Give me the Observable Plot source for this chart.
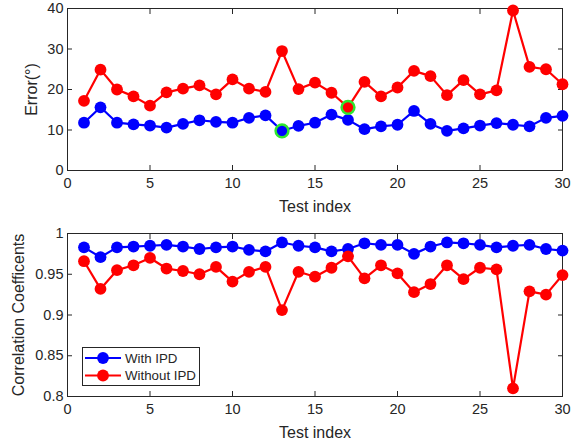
<!DOCTYPE html>
<html><head><meta charset="utf-8">
<script src="https://cdn.jsdelivr.net/npm/d3@7"></script>
<script src="https://cdn.jsdelivr.net/npm/@observablehq/plot@0.6"></script>
<style>
body{margin:0;background:#fff;}
#chart{position:relative;width:581px;height:444px;font-family:"Liberation Sans",Arial,sans-serif;}
#chart svg{display:block;}
#legend{position:absolute;left:82px;top:347px;}
</style></head><body><div id="chart"></div>
<script>
const testIndex = [1,2,3,4,5,6,7,8,9,10,11,12,13,14,15,16,17,18,19,20,21,22,23,24,25,26,27,28,29,30];
const errorWithIPD = [11.8,15.6,11.8,11.4,11.1,10.6,11.5,12.4,12.0,11.8,13.0,13.6,9.8,11.0,11.8,13.8,12.5,10.2,10.9,11.3,14.7,11.5,9.8,10.4,11.1,11.7,11.3,10.9,13.0,13.5];
const errorWithoutIPD = [17.2,24.9,20.0,18.3,16.0,19.3,20.2,21.0,18.8,22.5,20.2,19.4,29.5,20.1,21.7,19.2,15.6,21.9,18.3,20.5,24.6,23.3,18.6,22.3,18.8,19.8,39.5,25.6,25.0,21.3];
const corrWithIPD = [0.983,0.971,0.983,0.984,0.985,0.986,0.984,0.981,0.983,0.984,0.980,0.978,0.989,0.985,0.983,0.978,0.981,0.988,0.986,0.986,0.975,0.984,0.989,0.988,0.986,0.983,0.985,0.986,0.981,0.979];
const corrWithoutIPD = [0.966,0.932,0.955,0.961,0.970,0.957,0.954,0.950,0.959,0.941,0.953,0.959,0.906,0.953,0.947,0.958,0.972,0.945,0.961,0.951,0.928,0.938,0.961,0.944,0.958,0.956,0.810,0.929,0.925,0.949];
const seriesNames = ["With IPD","Without IPD"];
const seriesColors = ["#0000ff","#ff0000"];
const highlightSeries = ["With IPD","Without IPD"];
const highlightIndex = [13,17];
const xTicks = [0,5,10,15,20,25,30];
const errorTicks = [0,10,20,30,40];
const corrTicks = [0.8,0.85,0.9,0.95,1];

const rows = (a,b) => [
  ...testIndex.map((t,i)=>({index:t,value:a[i],series:seriesNames[0]})),
  ...testIndex.map((t,i)=>({index:t,value:b[i],series:seriesNames[1]}))
];
const errorData = rows(errorWithIPD, errorWithoutIPD);
const corrData = rows(corrWithIPD, corrWithoutIPD);
const highlights = highlightIndex.map((t,i)=>errorData.find(d=>d.index===t && d.series===highlightSeries[i]));

const axisColor = "#262626";
function panel({data, yDomain, yTicks, yLabel, yFormat, height, marginTop, extra=[], labelOffsetY}) {
  const svg = Plot.plot({
    width: 581, height, marginLeft: 67, marginRight: 19, marginTop, marginBottom: 48,
    style: {fontFamily: '"Liberation Sans", Arial, sans-serif', fontSize: "14.5px", color: axisColor, background: "white"},
    x: {domain: [0,30]},
    y: {domain: yDomain},
    color: {domain: seriesNames, range: seriesColors},
    marks: [
      Plot.frame({stroke: axisColor, strokeWidth: 1}),
      Plot.axisX(xTicks, {anchor: "bottom", tickSize: -5, tickPadding: 12.5, stroke: axisColor, fill: axisColor, label: "Test index", labelAnchor: "center", labelOffset: 41, labelArrow: "none"}),
      Plot.axisX(xTicks, {anchor: "top", tickSize: -5, tickFormat: () => "", label: null, stroke: axisColor}),
      Plot.axisY(yTicks, {anchor: "left", tickSize: -5, tickPadding: 9, tickFormat: yFormat, stroke: axisColor, fill: axisColor, label: yLabel, labelAnchor: "center", labelOffset: labelOffsetY, labelArrow: "none"}),
      Plot.axisY(yTicks, {anchor: "right", tickSize: -5, tickFormat: () => "", label: null, stroke: axisColor}),
      Plot.line(data, {x: "index", y: "value", stroke: "series", strokeWidth: 2.2}),
      Plot.dot(data, {x: "index", y: "value", fill: "series", r: 5.9}),
      ...extra
    ]
  });
  // enlarge axis titles
  d3.select(svg).selectAll("[aria-label$='axis label'] text").attr("font-size", "16px");
  return svg;
}

const topPanel = panel({data: errorData, yDomain: [0,40], yTicks: errorTicks, yLabel: "Error(°)", yFormat: d => String(d), height: 218, marginTop: 8, labelOffsetY: 42,
  extra: [Plot.dot(highlights, {x: "index", y: "value", fill: "series", stroke: "#2ee82e", strokeWidth: 2.5, r: 6.4})]});
const bottomPanel = panel({data: corrData, yDomain: [0.8,1], yTicks: corrTicks, yLabel: "Correlation Coefficents", yFormat: d => String(d), height: 226, marginTop: 15, labelOffsetY: 55});

const chart = document.getElementById("chart");
chart.appendChild(topPanel);
chart.appendChild(bottomPanel);

// legend
const lg = d3.create("svg").attr("id","legend").attr("width",118).attr("height",39);
lg.append("rect").attr("x",0.5).attr("y",0.5).attr("width",117).attr("height",38).attr("fill","white").attr("stroke",axisColor);
seriesNames.forEach((name,i)=>{
  const y = 11 + i*17.5;
  lg.append("line").attr("x1",3).attr("x2",39).attr("y1",y).attr("y2",y).attr("stroke",seriesColors[i]).attr("stroke-width",2.2);
  lg.append("circle").attr("cx",21).attr("cy",y).attr("r",5.9).attr("fill",seriesColors[i]);
  lg.append("text").attr("x",43).attr("y",y).attr("dy","0.35em").attr("font-size","13.3px").attr("fill",axisColor)
    .attr("font-family",'"Liberation Sans", Arial, sans-serif').text(name);
});
chart.appendChild(lg.node());
</script></body></html>
